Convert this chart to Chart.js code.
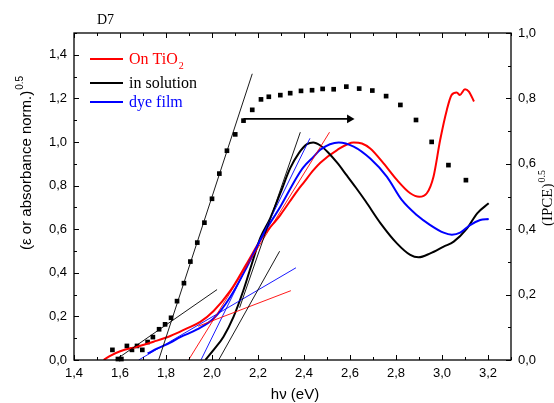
<!DOCTYPE html>
<html>
<head>
<meta charset="utf-8">
<script src="https://cdn.jsdelivr.net/npm/chart.js@4.4.0/dist/chart.umd.min.js"></script>
<style>
  html, body { margin: 0; padding: 0; background: #fff; }
</style>
</head>
<body>
<canvas id="chartCanvas" width="554" height="403"></canvas>
<script>
const SANS = "'Liberation Sans', Arial, sans-serif";
const SERIF = "'Liberation Serif', 'Times New Roman', serif";

// absorbance curves (left axis)
const tio2Energy = [1.529, 1.555, 1.601, 1.674, 1.746, 1.819, 1.891, 1.949, 2.007, 2.080, 2.152, 2.217, 2.297, 2.370, 2.398, 2.442, 2.471, 2.544, 2.616, 2.652, 2.688, 2.746, 2.804, 2.862, 2.901, 2.934, 2.963, 2.992, 3.021, 3.042, 3.064, 3.078, 3.100, 3.117, 3.139];
const tio2Abs    = [0.000, 0.018, 0.040, 0.061, 0.084, 0.110, 0.145, 0.175, 0.225, 0.318, 0.444, 0.560, 0.665, 0.775, 0.813, 0.872, 0.905, 0.963, 0.998, 0.993, 0.970, 0.902, 0.826, 0.765, 0.749, 0.765, 0.841, 1.009, 1.147, 1.216, 1.227, 1.216, 1.242, 1.231, 1.186];

const solEnergy = [1.971, 2.007, 2.050, 2.094, 2.137, 2.174, 2.210, 2.253, 2.297, 2.340, 2.377, 2.413, 2.440, 2.471, 2.505, 2.544, 2.585, 2.626, 2.668, 2.733, 2.804, 2.862, 2.898, 2.949, 3.007, 3.051, 3.109, 3.153, 3.203];
const solAbs    = [0.000, 0.046, 0.107, 0.199, 0.321, 0.444, 0.560, 0.650, 0.765, 0.880, 0.948, 0.990, 0.998, 0.984, 0.952, 0.905, 0.848, 0.790, 0.728, 0.627, 0.535, 0.482, 0.471, 0.489, 0.520, 0.543, 0.604, 0.673, 0.719];

const filmEnergy = [1.720, 1.763, 1.819, 1.862, 1.935, 2.007, 2.080, 2.152, 2.224, 2.297, 2.370, 2.398, 2.442, 2.471, 2.551, 2.616, 2.688, 2.760, 2.825, 2.890, 2.949, 3.007, 3.043, 3.079, 3.122, 3.166, 3.203];
const filmAbs    = [0.030, 0.053, 0.080, 0.105, 0.140, 0.190, 0.290, 0.428, 0.578, 0.703, 0.841, 0.885, 0.933, 0.965, 0.998, 0.979, 0.924, 0.841, 0.734, 0.665, 0.619, 0.584, 0.575, 0.584, 0.619, 0.642, 0.647];

// IPCE^0.5 (right axis)
const ipceEnergy = [1.567, 1.591, 1.606, 1.630, 1.652, 1.674, 1.697, 1.720, 1.743, 1.770, 1.796, 1.822, 1.848, 1.878, 1.906, 1.936, 1.967, 2.000, 2.032, 2.065, 2.101, 2.137, 2.175, 2.213, 2.247, 2.297, 2.340, 2.387, 2.435, 2.481, 2.529, 2.584, 2.640, 2.697, 2.757, 2.819, 2.887, 2.955, 3.028, 3.104];
const ipceRoot   = [0.031, 0.003, 0.003, 0.043, 0.031, 0.043, 0.031, 0.055, 0.070, 0.094, 0.109, 0.129, 0.180, 0.235, 0.301, 0.359, 0.420, 0.493, 0.570, 0.640, 0.690, 0.732, 0.765, 0.797, 0.805, 0.810, 0.816, 0.823, 0.825, 0.829, 0.828, 0.836, 0.830, 0.824, 0.807, 0.780, 0.734, 0.667, 0.596, 0.550];

// tangent lines [x1, y1, x2, y2] in left-axis units
const blackTangents = [[1.768, 0, 2.175, 1.313], [1.580, 0, 2.022, 0.323], [2.029, 0, 2.294, 0.499], [2.12, 0.24, 2.384, 1.045]];
const redTangents   = [[1.898, 0, 2.511, 1.045], [1.94, 0.155, 2.343, 0.318]];
const blueTangents  = [[1.952, 0, 2.426, 1.017], [1.681, 0, 2.365, 0.423]];

const arrowX = [2.137, 2.598];
const arrowY = 1.106;

const xTicks = { min: 1.4, max: 3.3, step: 0.2 };
const leftTicks = { min: 0, max: 1.5, step: 0.2 };
const rightTicks = { min: 0, max: 1.0, step: 0.2 };

function pairs(xs, ys) {
  return xs.map((x, i) => ({ x: x, y: ys[i] }));
}

function curve(xs, ys, color) {
  return {
    data: pairs(xs, ys), yAxisID: 'y', showLine: true,
    borderColor: color, borderWidth: 2, pointRadius: 0,
    cubicInterpolationMode: 'monotone', fill: false
  };
}

function tangentSets(list, color) {
  return list.map(t => ({
    data: [{ x: t[0], y: t[1] }, { x: t[2], y: t[3] }], yAxisID: 'y', showLine: true,
    borderColor: color, borderWidth: 0.9, pointRadius: 0, fill: false
  }));
}

const fmt = v => Number(v).toFixed(1).replace('.', ',');

const framePlugin = {
  id: 'frame',
  afterDatasetsDraw(chart) {
    const ctx = chart.ctx;
    const a = chart.chartArea;
    const sx = chart.scales.x, sy = chart.scales.y, sy2 = chart.scales.y2;
    ctx.save();
    ctx.strokeStyle = '#000';
    ctx.lineWidth = 1.3;
    ctx.strokeRect(a.left, a.top, a.right - a.left, a.bottom - a.top);
    ctx.lineWidth = 1;
    ctx.beginPath();
    for (let i = 0; i <= 19; i++) {
      const v = xTicks.min + i * 0.1;
      const px = Math.round(sx.getPixelForValue(v)) + 0.5;
      const len = i % 2 === 0 ? 5 : 3;
      ctx.moveTo(px, a.bottom); ctx.lineTo(px, a.bottom - len);
      ctx.moveTo(px, a.top); ctx.lineTo(px, a.top + len);
    }
    for (let i = 0; i <= 15; i++) {
      const py = Math.round(sy.getPixelForValue(i * 0.1)) + 0.5;
      const len = i % 2 === 0 ? 5 : 3;
      ctx.moveTo(a.left, py); ctx.lineTo(a.left + len, py);
    }
    for (let i = 0; i <= 10; i++) {
      const py = Math.round(sy2.getPixelForValue(i * 0.1)) + 0.5;
      const len = i % 2 === 0 ? 5 : 3;
      ctx.moveTo(a.right, py); ctx.lineTo(a.right - len, py);
    }
    ctx.stroke();
    ctx.restore();
  },
  afterDraw(chart) {
    const ctx = chart.ctx;
    ctx.save();
    ctx.textBaseline = 'alphabetic';

    // panel label
    ctx.fillStyle = '#000';
    ctx.font = '14px ' + SERIF;
    ctx.textAlign = 'left';
    ctx.fillText('D7', 97, 24);

    // legend
    const items = [
      { text: 'On TiO', sub: '2', color: '#ff0000', y: 59 },
      { text: 'in solution', color: '#000000', y: 83 },
      { text: 'dye film', color: '#0000ff', y: 102 }
    ];
    items.forEach(it => {
      ctx.strokeStyle = it.color;
      ctx.lineWidth = 2;
      ctx.beginPath();
      ctx.moveTo(90, it.y); ctx.lineTo(123, it.y);
      ctx.stroke();
      ctx.fillStyle = it.color;
      ctx.font = '16px ' + SERIF;
      ctx.fillText(it.text, 129, it.y + 5);
      if (it.sub) {
        const w = ctx.measureText(it.text).width;
        ctx.font = '10px ' + SERIF;
        ctx.fillText(it.sub, 129 + w + 1, it.y + 10);
      }
    });

    // x title
    ctx.fillStyle = '#000';
    ctx.font = '15px ' + SANS;
    ctx.textAlign = 'center';
    ctx.fillText('h\u03bd (eV)', 295, 399);

    // left title
    ctx.save();
    ctx.translate(31, 250);
    ctx.rotate(-Math.PI / 2);
    ctx.textAlign = 'left';
    ctx.font = '15px ' + SANS;
    const lt = '(\u03b5 or absorbance norm.)';
    ctx.fillText(lt, 0, 0);
    const lw = ctx.measureText(lt).width;
    ctx.font = '10px ' + SANS;
    ctx.fillText('0.5', lw + 1, -8);
    ctx.restore();

    // right title
    ctx.save();
    ctx.translate(552, 226);
    ctx.rotate(-Math.PI / 2);
    ctx.textAlign = 'left';
    ctx.font = '15px ' + SERIF;
    const rt = '(IPCE)';
    ctx.fillText(rt, 0, 0);
    const rw = ctx.measureText(rt).width;
    ctx.font = '10px ' + SERIF;
    ctx.fillText('0.5', rw + 1, -7);
    ctx.restore();

    ctx.restore();
  }
};

const datasets = [
  ...tangentSets(blackTangents, '#000000'),
  ...tangentSets(redTangents, '#ff0000'),
  ...tangentSets(blueTangents, '#0000ff'),
  curve(filmEnergy, filmAbs, '#0000ff'),
  curve(solEnergy, solAbs, '#000000'),
  curve(tio2Energy, tio2Abs, '#ff0000'),
  {
    data: arrowX.map(x => ({ x: x, y: arrowY })), yAxisID: 'y', showLine: true,
    borderColor: '#000', borderWidth: 1.6,
    pointRadius: [0, 5], pointStyle: 'triangle', pointRotation: 90,
    pointBackgroundColor: '#000', pointBorderColor: '#000', pointBorderWidth: 0
  },
  {
    data: pairs(ipceEnergy, ipceRoot), yAxisID: 'y2', showLine: false,
    pointStyle: 'rect', pointRadius: 3.3, pointBackgroundColor: '#000',
    pointBorderColor: '#000', pointBorderWidth: 0, clip: false
  }
];

function axisTicks(t, pad) {
  return {
    stepSize: t.step, includeBounds: false, padding: pad, color: '#000',
    font: { family: SANS, size: 13 }, callback: fmt, autoSkip: false, maxRotation: 0
  };
}

new Chart(document.getElementById('chartCanvas').getContext('2d'), {
  type: 'scatter',
  data: { datasets: datasets },
  options: {
    responsive: false,
    animation: false,
    layout: { padding: { top: 33, left: 0, right: 0, bottom: 0 } },
    plugins: { legend: { display: false }, tooltip: { enabled: false } },
    scales: {
      x: {
        type: 'linear', min: xTicks.min, max: xTicks.max,
        grid: { display: false, drawTicks: false }, border: { display: false },
        ticks: axisTicks(xTicks, 6),
        afterFit: s => { s.height = 43; }
      },
      y: {
        type: 'linear', position: 'left', min: leftTicks.min, max: leftTicks.max,
        grid: { display: false, drawTicks: false }, border: { display: false },
        ticks: axisTicks(leftTicks, 7),
        afterFit: s => { s.width = 74; }
      },
      y2: {
        type: 'linear', position: 'right', min: rightTicks.min, max: rightTicks.max,
        grid: { display: false, drawTicks: false }, border: { display: false },
        ticks: axisTicks(rightTicks, 7),
        afterFit: s => { s.width = 43; }
      }
    }
  },
  plugins: [framePlugin]
});
</script>
</body>
</html>
